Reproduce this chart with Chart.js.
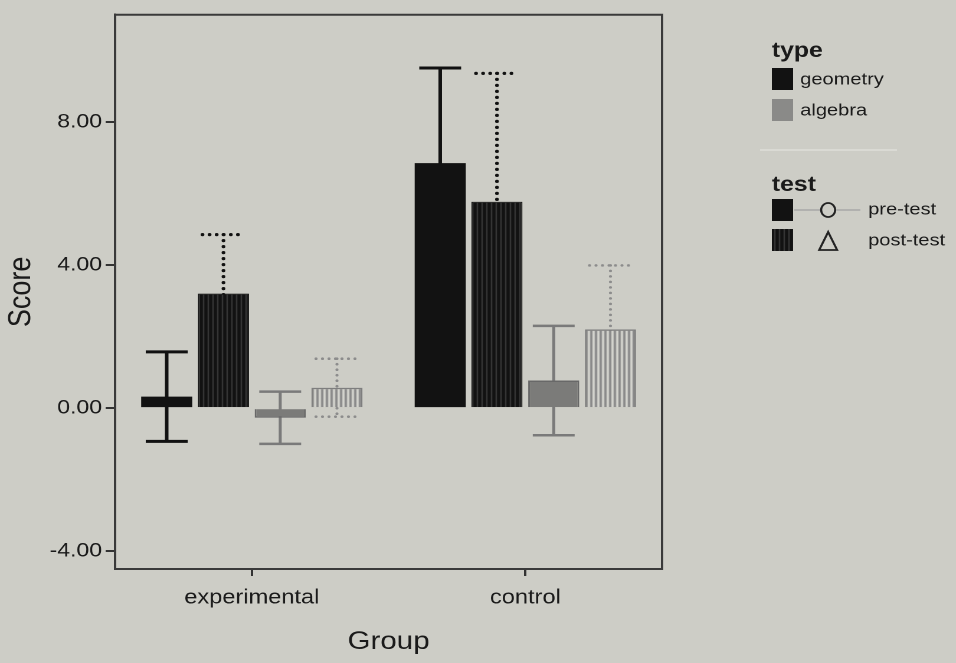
<!DOCTYPE html>
<html><head><meta charset="utf-8">
<script src="https://cdn.jsdelivr.net/npm/chart.js@4.4.0/dist/chart.umd.min.js"></script>
<style>
html,body{margin:0;padding:0;background:#cdcdc6;overflow:hidden;width:956px;height:663px}
#wrap{position:absolute;left:0;top:0;width:810px;height:663px;transform:scaleX(1.1802);transform-origin:0 0}
</style></head><body>
<div id="wrap"><canvas id="c"></canvas></div>
<script>
// ---- data ----
const categories = ['experimental', 'control'];
const geometryPre = [0.32, 6.85];
const geometryPreErr = [1.25, 2.66];
const geometryPost = [3.20, 5.77];
const geometryPostErr = [1.65, 3.59];
const algebraPre = [-0.27, 0.77];
const algebraPreErr = [0.73, 1.53];
const algebraPost = [0.57, 2.20];
const algebraPostErr = [0.81, 1.79];
const yTicks = [-4, 0, 4, 8];
const typeLabels = ['geometry', 'algebra'];
const testLabels = ['pre-test', 'post-test'];

// ---- styles ----
const BG = '#cdcdc6';
const INK = '#1a1a1a';
Chart.defaults.font.family = '"Liberation Sans", Arial, Helvetica, sans-serif';
Chart.defaults.color = INK;

function stripePattern(bg, fg, w, sw) {
  const c = document.createElement('canvas');
  c.width = w; c.height = 4;
  const g = c.getContext('2d');
  g.fillStyle = bg; g.fillRect(0, 0, w, 4);
  g.fillStyle = fg; g.fillRect(0, 0, sw, 4);
  return g.createPattern(c, 'repeat');
}
const ctx0 = document.getElementById('c').getContext('2d');
const geoPostFill = stripePattern('#121212', '#404040', 4, 1);
const algPostFill = stripePattern('#d3d3cd', '#8a8a8a', 4, 2);

const errSeries = [geometryPreErr, geometryPostErr, algebraPreErr, algebraPostErr];
const errStyles = [
  {color: '#111', width: 3, dash: []},
  {color: '#111', width: 3.2, dash: [0, 6]},
  {color: '#7a7a7a', width: 2.5, dash: []},
  {color: '#8c8c8c', width: 2.6, dash: [0, 5.5]}
];

const errorBarPlugin = {
  id: 'errorBars',
  beforeDatasetsDraw(chart) {
    const ctx = chart.ctx, ys = chart.scales.y;
    errSeries.forEach((errs, di) => {
      const meta = chart.getDatasetMeta(di);
      const vals = chart.data.datasets[di].data;
      const st = errStyles[di];
      meta.data.forEach((bar, j) => {
        const m = vals[j], e = errs[j];
        const top = ys.getPixelForValue(m + e), bot = ys.getPixelForValue(m - e);
        const x = bar.x, hw = bar.width * 0.41;
        ctx.save();
        ctx.strokeStyle = st.color;
        ctx.lineWidth = st.width;
        ctx.setLineDash(st.dash);
        ctx.lineCap = st.dash.length ? 'round' : 'butt';
        ctx.beginPath();
        ctx.moveTo(x, top); ctx.lineTo(x, bot);
        ctx.moveTo(x - hw, top); ctx.lineTo(x + hw, top);
        ctx.moveTo(x - hw, bot); ctx.lineTo(x + hw, bot);
        ctx.stroke();
        ctx.restore();
      });
    });
  }
};

const framePlugin = {
  id: 'frame',
  afterDatasetsDraw(chart) {
    const {ctx, chartArea: a} = chart;
    ctx.save();
    ctx.strokeStyle = '#3a3a3a';
    ctx.lineWidth = 2;
    ctx.beginPath();
    ctx.moveTo(a.left, a.top); ctx.lineTo(a.right, a.top); ctx.lineTo(a.right, a.bottom);
    ctx.stroke();
    ctx.restore();
  }
};

const legendPlugin = {
  id: 'customLegend',
  afterDraw(chart) {
    const ctx = chart.ctx;
    const L = 654, TX = 678;
    ctx.save();
    ctx.fillStyle = INK;
    ctx.textAlign = 'left';
    ctx.textBaseline = 'alphabetic';
    ctx.font = 'bold 21px "Liberation Sans", Arial, sans-serif';
    ctx.fillText('type', L, 57);
    ctx.fillText('test', L, 191);
    // type swatches
    ctx.fillStyle = '#121212'; ctx.fillRect(L, 68, 18, 22);
    ctx.fillStyle = '#8a8a88'; ctx.fillRect(L, 99, 18, 22);
    ctx.font = '17px "Liberation Sans", Arial, sans-serif';
    ctx.textBaseline = 'middle';
    ctx.fillStyle = INK;
    ctx.fillText(typeLabels[0], TX, 80);
    ctx.fillText(typeLabels[1], TX, 111);
    // separator
    ctx.strokeStyle = '#dadad4'; ctx.lineWidth = 2;
    ctx.beginPath(); ctx.moveTo(644, 150); ctx.lineTo(760, 150); ctx.stroke();
    // test swatches
    ctx.fillStyle = '#121212'; ctx.fillRect(L, 199, 18, 22);
    ctx.fillStyle = geoPostFill; ctx.fillRect(L, 229, 18, 22);
    // pre-test marker
    ctx.strokeStyle = '#a0a0a0'; ctx.lineWidth = 1.2;
    ctx.beginPath(); ctx.moveTo(673, 210); ctx.lineTo(729, 210); ctx.stroke();
    ctx.beginPath(); ctx.ellipse(701.7, 210, 5.9, 7, 0, 0, Math.PI * 2);
    ctx.fillStyle = BG; ctx.fill();
    ctx.strokeStyle = '#222'; ctx.lineWidth = 1.8; ctx.stroke();
    // post-test marker
    ctx.beginPath(); ctx.moveTo(701.7, 232); ctx.lineTo(709.3, 250); ctx.lineTo(694.1, 250); ctx.closePath();
    ctx.stroke();
    ctx.fillStyle = INK;
    ctx.fillText(testLabels[0], 735.6, 210);
    ctx.fillText(testLabels[1], 735.6, 241);
    ctx.restore();
  }
};

new Chart(document.getElementById('c'), {
  type: 'bar',
  data: {
    labels: categories,
    datasets: [
      {label: 'geometry pre-test', data: geometryPre, backgroundColor: '#121212', borderWidth: 0},
      {label: 'geometry post-test', data: geometryPost, backgroundColor: geoPostFill, borderColor: '#111', borderWidth: 1},
      {label: 'algebra pre-test', data: algebraPre, backgroundColor: '#7b7b79', borderColor: '#686868', borderWidth: 1.5},
      {label: 'algebra post-test', data: algebraPost, backgroundColor: algPostFill, borderColor: '#7e7e7e', borderWidth: 1.5}
    ]
  },
  options: {
    responsive: true,
    maintainAspectRatio: false,
    animation: false,
    devicePixelRatio: 2,
    layout: {padding: {top: 12, right: 249, left: 0, bottom: 0}},
    datasets: {bar: {categoryPercentage: 0.83, barPercentage: 0.9}},
    plugins: {legend: {display: false}, tooltip: {enabled: false}},
    scales: {
      x: {
        type: 'category',
        offset: true,
        grid: {display: true, drawOnChartArea: false, drawTicks: true, tickLength: 7, offset: false, color: '#333', lineWidth: 2},
        border: {display: true, color: '#3a3a3a', width: 2},
        ticks: {font: {size: 20}, padding: 10, color: INK},
        title: {display: true, text: 'Group', font: {size: 25}, padding: {top: 0, bottom: 6}, color: INK},
        afterFit(s) { s.height = 94; }
      },
      y: {
        min: -4.5,
        max: 11,
        afterBuildTicks(s) { s.ticks = yTicks.map(v => ({value: v})); },
        grid: {display: true, drawOnChartArea: false, drawTicks: true, tickLength: 8, color: '#333', lineWidth: 2},
        border: {display: true, color: '#3a3a3a', width: 2},
        ticks: {font: {size: 19.5}, padding: 3, color: INK, callback: v => Number(v).toFixed(2)},
        title: {display: true, text: 'Score', font: {size: 27}, padding: {top: 2, bottom: 0}, color: INK},
        afterFit(s) { s.width = 97.5; }
      }
    }
  },
  plugins: [errorBarPlugin, framePlugin, legendPlugin]
});
</script>
</body></html>
